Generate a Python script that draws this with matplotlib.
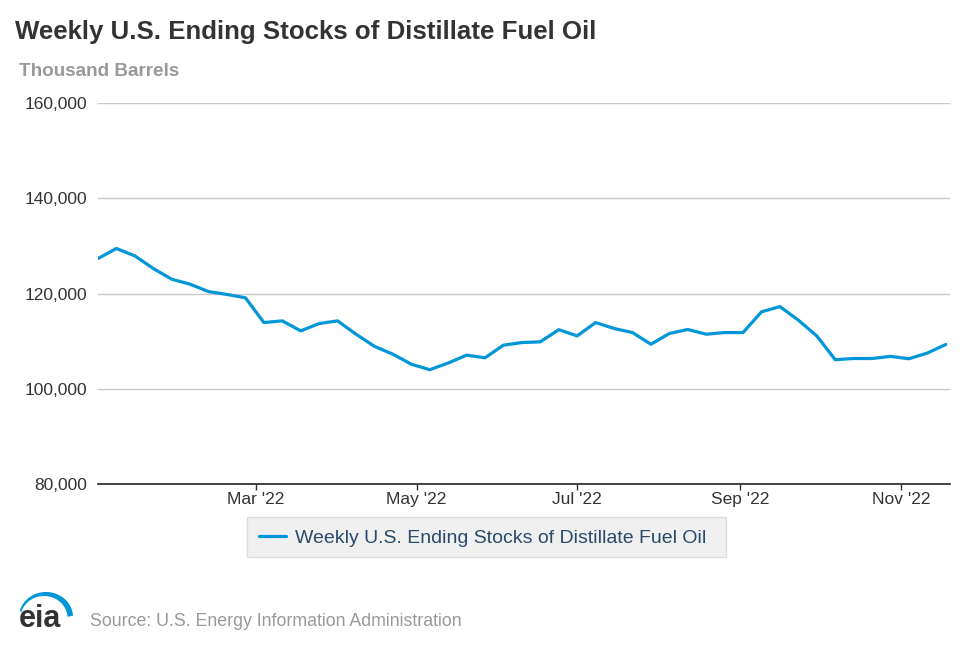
import matplotlib
matplotlib.use("Agg")
import matplotlib.pyplot as plt
import matplotlib.dates as mdates
from matplotlib.patches import Rectangle, Polygon
import numpy as np
import pandas as pd

plt.rcParams['font.family'] = ['Liberation Sans', 'DejaVu Sans']

title = "Weekly U.S. Ending Stocks of Distillate Fuel Oil"
y_label = "Thousand Barrels"
series_name = "Weekly U.S. Ending Stocks of Distillate Fuel Oil"
source = "Source: U.S. Energy Information Administration"

dates = pd.date_range("2021-12-31", periods=47, freq="7D")
values = [127350, 129450, 127900, 125250, 123000, 121950, 120400, 119800, 119100,
          113900, 114250, 112150, 113700, 114250, 111450, 108900, 107250, 105150,
          104000, 105400, 107050, 106500, 109150, 109700, 109850, 112400, 111100,
          113900, 112650, 111800, 109350, 111600, 112450, 111450, 111800, 111800,
          116150, 117250, 114400, 111100, 106100, 106350, 106350, 106800, 106300,
          107500, 109300]
y_ticks = [80000, 100000, 120000, 140000, 160000]
x_tick_dates = ["2022-03-01", "2022-05-01", "2022-07-01", "2022-09-01", "2022-11-01"]

W, H = 970, 647
fig = plt.figure(figsize=(W / 100, H / 100), dpi=100)
ax = fig.add_axes([98 / W, 1 - 484 / H, (950 - 98) / W, (484 - 103) / H])

line_color = "#0096d7"
ax.plot(dates, values, color=line_color, lw=2.3, solid_joinstyle='round',
        solid_capstyle='round', label=series_name, zorder=3)

ax.set_xlim(dates[0], dates[0] + pd.Timedelta(days=323.6))
ax.set_ylim(80000, 160000)
ax.set_yticks(y_ticks)
ax.yaxis.set_major_formatter(matplotlib.ticker.FuncFormatter(lambda v, p: f"{int(v):,}"))
ax.set_xticks(pd.to_datetime(x_tick_dates))
ax.xaxis.set_major_formatter(mdates.DateFormatter("%b '%y"))

ax.grid(axis='y', color='#c8c8c8', lw=1)
ax.set_axisbelow(True)
for s in ['top', 'right', 'left']:
    ax.spines[s].set_visible(False)
ax.spines['bottom'].set_color('#333333')
ax.spines['bottom'].set_linewidth(1.3)
ax.spines['bottom'].set_zorder(4)
ax.tick_params(axis='y', length=0, pad=8, labelsize=12.5, labelcolor='#333333')
ax.tick_params(axis='x', length=4, width=1, color='#333333', pad=2,
               labelsize=12.5, labelcolor='#333333', direction='out')

fig.text(15 / W, 1 - 32 / H, title, fontsize=18.6, fontweight='bold',
         color='#333333', va='center', ha='left')
fig.text(19 / W, 1 - 72 / H, y_label, fontsize=13.6, fontweight='bold',
         color='#999999', va='center', ha='left')

# legend box
fig.patches.append(Rectangle((247 / W, 1 - 557 / H), (726 - 247) / W, 40 / H,
                             transform=fig.transFigure, facecolor='#f0f0f0',
                             edgecolor='#dddddd', lw=1, zorder=0))
handles, labels = ax.get_legend_handles_labels()
leg = fig.legend(handles, labels, loc='center left', bbox_to_anchor=(259 / W, 1 - 538 / H),
                 frameon=False, fontsize=14, handlelength=1.4, handletextpad=0.45,
                 borderpad=0, borderaxespad=0)
for t in leg.get_texts():
    t.set_color('#2b4a6b')

# eia logo
fig.text(19 / W, 1 - 627 / H, "eia", fontsize=22, color='#333333', va='baseline',
         ha='left', fontweight='bold')
ang_o = np.radians(np.linspace(165, 3, 50))
ang_i = np.radians(np.linspace(3, 165, 50))
outer = np.column_stack([46 + 27 * np.cos(ang_o), 617 - 25 * np.sin(ang_o)])
inner = np.column_stack([44 + 23.5 * np.cos(ang_i), 618 - 22 * np.sin(ang_i)])
pts = np.vstack([outer, inner])
pts_fig = np.column_stack([pts[:, 0] / W, 1 - pts[:, 1] / H])
fig.patches.append(Polygon(pts_fig, closed=True, transform=fig.transFigure,
                           facecolor=line_color, edgecolor='none'))
fig.text(90 / W, 1 - 621 / H, source, fontsize=12.8, color='#999999',
         va='center', ha='left')

fig.savefig("out.png", dpi=100)
